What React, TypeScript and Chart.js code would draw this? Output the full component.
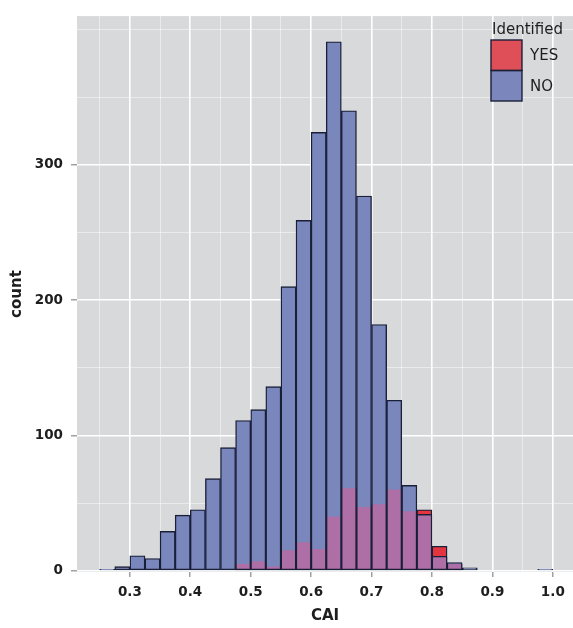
import React, { useEffect, useRef } from 'react';
import { Chart, registerables } from 'chart.js';

Chart.register(...registerables);

// Histogram bins (width 0.025), given by bin centers
const binCenters = [
  0.2625, 0.2875, 0.3125, 0.3375, 0.3625, 0.3875, 0.4125, 0.4375, 0.4625, 0.4875,
  0.5125, 0.5375, 0.5625, 0.5875, 0.6125, 0.6375, 0.6625, 0.6875, 0.7125, 0.7375,
  0.7625, 0.7875, 0.8125, 0.8375, 0.8625, 0.8875, 0.9125, 0.9375, 0.9625, 0.9875,
];
const countNO = [
  1, 3, 11, 9, 29, 41, 45, 68, 91, 111,
  119, 136, 210, 259, 324, 391, 340, 277, 182, 126,
  63, 41, 10, 6, 2, 0, 0, 0, 0, 1,
];
const countYES = [
  0, 0, 0, 0, 0, 0, 0, 0, 0, 5,
  7, 3, 15, 21, 16, 40, 61, 47, 49, 60,
  44, 45, 18, 5, 0, 0, 0, 0, 0, 0,
];
const xTickValues = [0.25, 0.3, 0.35, 0.4, 0.45, 0.5, 0.55, 0.6, 0.65, 0.7, 0.75, 0.8, 0.85, 0.9, 0.95, 1.0];
const xTickLabels = ['0.3', '0.4', '0.5', '0.6', '0.7', '0.8', '0.9', '1.0'];
const yTickValues = [0, 50, 100, 150, 200, 250, 300, 350, 400];
const yTickLabels = ['0', '100', '200', '300'];
const xTitle = 'CAI';
const yTitle = 'count';
const legendTitle = 'Identified';
const legendLabels = ['YES', 'NO'];

const BLUE = '#7a87bd';
const PURPLE = '#ae6ea6';
const RED = '#e3353f';
const EDGE = '#1a1f38';
const PANEL = '#d7d9da';
const TEXT = '#1e1e1e';
const BW = 1.4;

const findLabel = (labels: string[], v: number) =>
  labels.find((l) => Math.abs(parseFloat(l) - v) < 1e-9) ?? '';

export default function App() {
  const ref = useRef<HTMLCanvasElement>(null);

  useEffect(() => {
    document.body.style.margin = '0';
    const canvas = ref.current;
    if (!canvas) return;

    const noData = binCenters.map((x, i) => ({ x, y: countNO[i] > 0 ? countNO[i] : null }));
    const overlapData = binCenters.map((x, i) => {
      const m = Math.min(countNO[i], countYES[i]);
      return { x, y: m > 0 ? [0, m] : null };
    });
    const excessData = binCenters.map((x, i) => ({
      x,
      y: countYES[i] > countNO[i] ? [countNO[i], countYES[i]] : null,
    }));

    const panelBg = {
      id: 'panelBg',
      beforeDraw(chart: any) {
        const { ctx, chartArea } = chart;
        const { left, top, right, bottom } = chartArea;
        ctx.save();
        ctx.fillStyle = PANEL;
        ctx.fillRect(left, top, right - left, bottom - top);
        ctx.restore();
      },
    };

    const legendPlugin = {
      id: 'insideLegend',
      afterDraw(chart: any) {
        const { ctx } = chart;
        ctx.save();
        ctx.font = '15px "DejaVu Sans"';
        ctx.fillStyle = TEXT;
        ctx.textAlign = 'left';
        ctx.textBaseline = 'middle';
        ctx.fillText(legendTitle, 492, 30);
        const kx = 491, kw = 31, ky = 40, kh = 30.5;
        const keyColors = ['#df4f57', '#7b87bc'];
        keyColors.forEach((c, i) => {
          ctx.fillStyle = c;
          ctx.fillRect(kx, ky + i * kh, kw, kh);
        });
        ctx.strokeStyle = EDGE;
        ctx.lineWidth = 1.4;
        keyColors.forEach((c, i) => {
          ctx.strokeRect(kx, ky + i * kh, kw, kh);
        });
        ctx.fillStyle = TEXT;
        legendLabels.forEach((l, i) => {
          ctx.fillText(l, 530, ky + i * kh + kh / 2 + 1);
        });
        ctx.restore();
      },
    };

    const isMajorX = (v: number) => findLabel(xTickLabels, v) !== '';
    const isMajorY = (v: number) => findLabel(yTickLabels, v) !== '';

    const common = {
      grouped: false,
      barPercentage: 1,
      categoryPercentage: 1,
      borderSkipped: false,
      borderColor: EDGE,
    };

    const chart = new Chart(canvas, {
      type: 'bar',
      data: {
        datasets: [
          {
            ...common,
            label: 'YES-only',
            data: excessData as any,
            backgroundColor: RED,
            borderWidth: BW,
            order: 1,
          },
          {
            ...common,
            label: 'YES',
            data: overlapData as any,
            backgroundColor: PURPLE,
            borderWidth: { top: 0, left: BW, right: BW, bottom: BW },
            order: 2,
          },
          {
            ...common,
            label: 'NO',
            data: noData as any,
            backgroundColor: BLUE,
            borderWidth: BW,
            order: 3,
          },
        ] as any,
      },
      options: {
        animation: false,
        responsive: false,
        layout: { padding: { top: 13, left: 0, right: 0, bottom: 0 } },
        plugins: {
          legend: { display: false },
          tooltip: { enabled: false },
        },
        scales: {
          x: {
            type: 'linear',
            offset: false,
            min: 0.2125,
            max: 1.0334,
            afterBuildTicks: (scale: any) => {
              scale.ticks = xTickValues.map((v) => ({ value: v }));
            },
            afterFit: (scale: any) => {
              scale.height = 56;
            },
            border: { display: false },
            grid: {
              offset: false,
              color: (c: any) => (c.tick && isMajorX(c.tick.value) ? '#ffffff' : 'rgba(255,255,255,0.6)'),
              lineWidth: (c: any) => (c.tick && isMajorX(c.tick.value) ? 1.6 : 0.8),
              tickColor: (c: any) => (c.tick && isMajorX(c.tick.value) ? '#8a8a8a' : 'rgba(0,0,0,0)'),
              tickLength: 5,
              tickWidth: 1.2,
            },
            ticks: {
              autoSkip: false,
              maxRotation: 0,
              padding: 7,
              color: TEXT,
              font: { family: 'DejaVu Sans', size: 13.5, weight: 'bold' },
              callback: (v: any) => findLabel(xTickLabels, Number(v)),
            },
            title: {
              display: true,
              text: xTitle,
              color: TEXT,
              font: { family: 'DejaVu Sans', size: 15, weight: 'bold' },
              padding: { top: 0, bottom: 3 },
            },
          },
          y: {
            type: 'linear',
            min: -1,
            max: 410,
            afterBuildTicks: (scale: any) => {
              scale.ticks = yTickValues.map((v) => ({ value: v }));
            },
            afterFit: (scale: any) => {
              scale.width = 77;
            },
            border: { display: false },
            grid: {
              color: (c: any) => (c.tick && isMajorY(c.tick.value) ? '#ffffff' : 'rgba(255,255,255,0.6)'),
              lineWidth: (c: any) => (c.tick && isMajorY(c.tick.value) ? 1.6 : 0.8),
              tickColor: (c: any) => (c.tick && isMajorY(c.tick.value) ? '#8a8a8a' : 'rgba(0,0,0,0)'),
              tickLength: 6,
              tickWidth: 1.2,
            },
            ticks: {
              autoSkip: false,
              padding: 8,
              color: TEXT,
              font: { family: 'DejaVu Sans', size: 13.5, weight: 'bold' },
              callback: (v: any) => findLabel(yTickLabels, Number(v)),
            },
            title: {
              display: true,
              text: yTitle,
              color: TEXT,
              font: { family: 'DejaVu Sans', size: 15, weight: 'bold' },
              padding: { top: 8, bottom: 0 },
            },
          },
        },
      } as any,
      plugins: [panelBg, legendPlugin],
    });

    return () => chart.destroy();
  }, []);

  return (
    <div style={{ width: 573, height: 628 }}>
      <canvas ref={ref} width={573} height={628} style={{ display: 'block' }} />
    </div>
  );
}
